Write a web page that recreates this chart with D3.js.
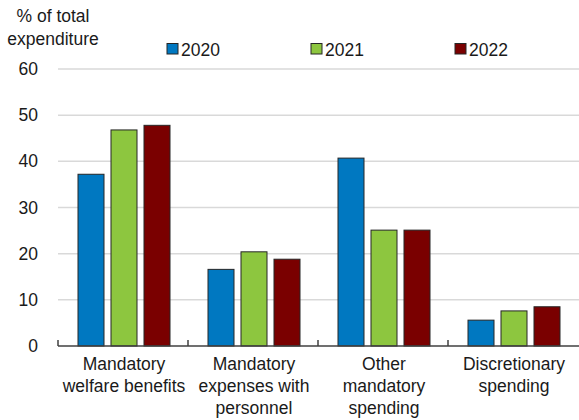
<!DOCTYPE html>
<html>
<head>
<meta charset="utf-8">
<script src="https://cdn.jsdelivr.net/npm/d3@7"></script>
<style>
    body { margin: 0; background: #fff; }
    text { font-family: "Liberation Sans", Arial, sans-serif; fill: #1a1a1a; }
</style>
</head>
<body>
<div id="chart"></div>
<script>
// Chart data
const categories = ["Mandatory welfare benefits", "Mandatory expenses with personnel", "Other mandatory spending", "Discretionary spending"];
const categoryLines = [["Mandatory", "welfare benefits"], ["Mandatory", "expenses with", "personnel"], ["Other", "mandatory", "spending"], ["Discretionary", "spending"]];
const years = ["2020", "2021", "2022"];
const values2020 = [37.2, 16.6, 40.7, 5.6];
const values2021 = [46.8, 20.4, 25.1, 7.6];
const values2022 = [47.8, 18.8, 25.1, 8.5];
const yTicks = [0, 10, 20, 30, 40, 50, 60];
const yTitle = ["% of total", "expenditure"];

const colors = { "2020": "#0078c1", "2021": "#8dc63f", "2022": "#7a0000" };
const seriesValues = { "2020": values2020, "2021": values2021, "2022": values2022 };

// Function to render the chart using D3.js
function renderChart() {
    const width = 579;
    const height = 420;
    const fontSize = "17.5px";

    const svg = d3.select("#chart")
        .append("svg")
        .attr("width", width)
        .attr("height", height);

    const x0 = d3.scaleBand()
        .domain(categories)
        .range([58, 578]);

    const x1 = d3.scaleBand()
        .domain(years)
        .range([20, 112])
        .paddingInner(0.212);

    const y = d3.scaleLinear()
        .domain([0, 60])
        .range([346, 69]);

    // Gridlines
    svg.append("g")
        .selectAll("line")
        .data(yTicks.filter(d => d > 0))
        .enter()
        .append("line")
        .attr("x1", 58)
        .attr("x2", width)
        .attr("y1", d => y(d))
        .attr("y2", d => y(d))
        .attr("stroke", "#d9d9d9")
        .attr("stroke-width", 1.5);

    // Y axis labels
    const yAxis = svg.append("g")
        .attr("transform", "translate(58,0)")
        .call(d3.axisLeft(y).tickValues(yTicks).tickSize(0).tickPadding(20));
    yAxis.select(".domain").remove();
    yAxis.selectAll("text")
        .style("font-family", "Liberation Sans, Arial, sans-serif")
        .style("font-size", fontSize)
        .attr("fill", "#1a1a1a");

    // Bars
    const groups = svg.append("g")
        .selectAll("g")
        .data(categories)
        .enter()
        .append("g")
        .attr("transform", d => `translate(${x0(d)},0)`);

    groups.selectAll("rect")
        .data((d, i) => years.map(yr => ({ year: yr, value: seriesValues[yr][i] })))
        .enter()
        .append("rect")
        .attr("x", d => x1(d.year))
        .attr("y", d => y(d.value))
        .attr("width", x1.bandwidth())
        .attr("height", d => y(0) - y(d.value))
        .attr("fill", d => colors[d.year])
        .attr("stroke", "#262626")
        .attr("stroke-width", 1);

    // X axis line and ticks between categories
    svg.append("line")
        .attr("x1", 58)
        .attr("x2", width)
        .attr("y1", y(0))
        .attr("y2", y(0))
        .attr("stroke", "#404040")
        .attr("stroke-width", 1.5);

    svg.append("g")
        .selectAll("line")
        .data(categories)
        .enter()
        .append("line")
        .attr("x1", d => x0(d))
        .attr("x2", d => x0(d))
        .attr("y1", y(0))
        .attr("y2", y(0) - 6)
        .attr("stroke", "#404040")
        .attr("stroke-width", 1.5);

    // Category labels
    const labels = svg.append("g")
        .selectAll("text")
        .data(categories)
        .enter()
        .append("text")
        .attr("text-anchor", "middle")
        .style("font-size", fontSize);

    labels.selectAll("tspan")
        .data((d, i) => categoryLines[i])
        .enter()
        .append("tspan")
        .attr("x", function () { const c = d3.select(this.parentNode).datum(); return x0(c) + x0.bandwidth() / 2 + 1; })
        .attr("y", (d, i) => 370 + i * 22)
        .text(d => d);

    // Y title
    svg.append("text")
        .attr("text-anchor", "middle")
        .style("font-size", fontSize)
        .selectAll("tspan")
        .data(yTitle)
        .enter()
        .append("tspan")
        .attr("x", 53)
        .attr("y", (d, i) => 22 + i * 23)
        .text(d => d);

    // Legend
    const legend = svg.append("g")
        .selectAll("g")
        .data(years)
        .enter()
        .append("g")
        .attr("transform", (d, i) => `translate(${167 + i * 144},43.5)`);

    legend.append("rect")
        .attr("width", 11)
        .attr("height", 10.5)
        .attr("fill", d => colors[d])
        .attr("stroke", "#262626")
        .attr("stroke-width", 1);

    legend.append("text")
        .attr("x", 14)
        .attr("y", 12.5)
        .style("font-size", fontSize)
        .text(d => d);
}

renderChart();
</script>
</body>
</html>
